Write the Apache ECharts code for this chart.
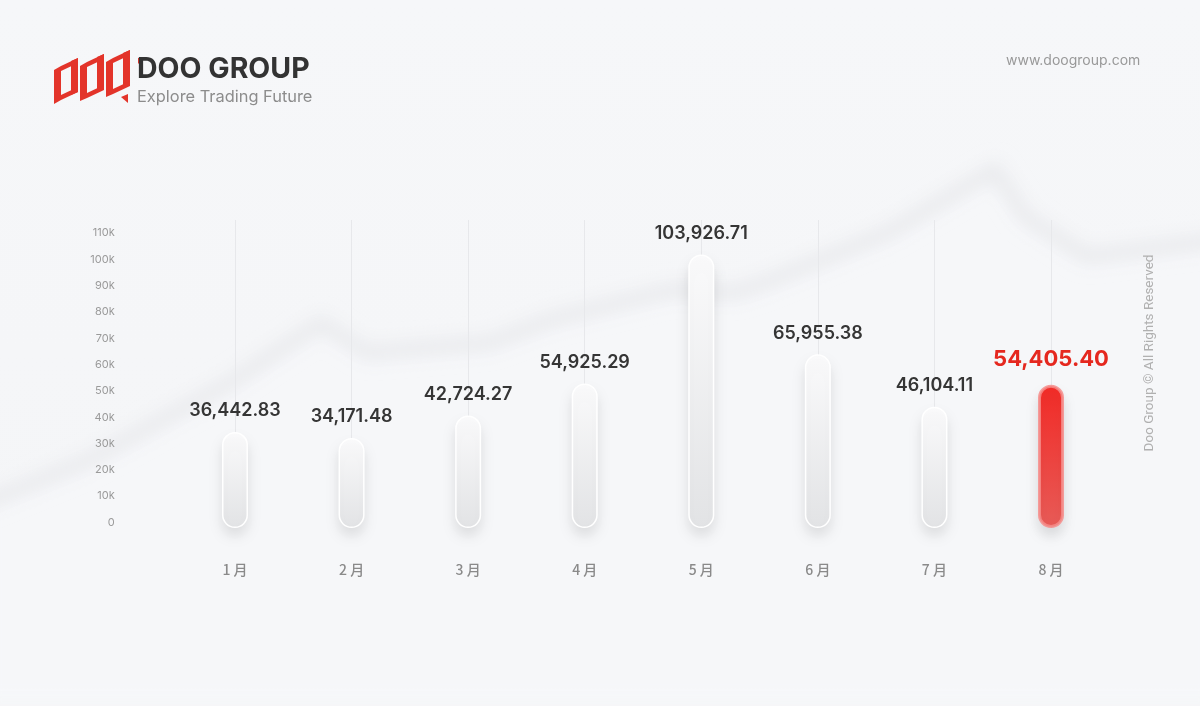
<!DOCTYPE html>
<html>
<head>
<meta charset="utf-8">
<script src="https://cdn.jsdelivr.net/npm/echarts@6/dist/echarts.min.js"></script>
<style>
  html, body { margin: 0; padding: 0; width: 1200px; height: 706px; overflow: hidden; background: #f4f5f7; }
  #bg { position: absolute; left: 0; top: 0; width: 1200px; height: 706px; }
  #chart { position: absolute; left: 0; top: 0; width: 1200px; height: 706px; }
</style>
</head>
<body>
<svg id="bg" width="1200" height="706" viewBox="0 0 1200 706">
  <defs>
    <filter id="blur" x="-10%" y="-10%" width="120%" height="120%"><feGaussianBlur stdDeviation="9"/></filter>
    <linearGradient id="bgGrad" x1="0" y1="0" x2="0" y2="1">
      <stop offset="0" stop-color="#f6f7f9"/>
      <stop offset="1" stop-color="#f4f5f7"/>
    </linearGradient>
  </defs>
  <rect width="1200" height="706" fill="url(#bgGrad)"/>
  <path d="M-20,505 L90,460 L230,383 L321,323 L367,353 L490,343 L551,320 L673,290 L735,293 L765,283 L888,233 L995,170 L1025,217 L1087,257 L1220,240 L1220,706 L-20,706 Z" fill="#f7f8fa" filter="url(#blur)" opacity="0.9"/>
  <path d="M-20,505 L90,460 L230,383 L321,323 L367,353 L490,343 L551,320 L673,290 L735,293 L765,283 L888,233 L995,170 L1025,217 L1087,257 L1220,240" fill="none" stroke="#e8e9ec" stroke-width="14" filter="url(#blur)"/>
</svg>
<div id="chart"></div>
<script>
const months = ['1 月', '2 月', '3 月', '4 月', '5 月', '6 月', '7 月', '8 月'];
const values = [36442.83, 34171.48, 42724.27, 54925.29, 103926.71, 65955.38, 46104.11, 54405.40];
const highlightIndex = 7;
const yMin = 0;
const yMax = 117000;
const yInterval = 10000;

const fmt = v => v.toLocaleString('en-US', { minimumFractionDigits: 2, maximumFractionDigits: 2 });

const chart = echarts.init(document.getElementById('chart'), null, { renderer: 'canvas' });

const greyStyle = {
  color: new echarts.graphic.LinearGradient(0, 0, 0, 1, [
    { offset: 0, color: '#fbfbfc' },
    { offset: 1, color: '#e3e4e6' }
  ]),
  borderRadius: 14,
  borderColor: '#ffffff',
  borderWidth: 1.5,
  shadowColor: 'rgba(0,0,0,0.11)',
  shadowBlur: 14,
  shadowOffsetY: 8
};
const redStyle = {
  color: new echarts.graphic.LinearGradient(0, 0, 0, 1, [
    { offset: 0, color: '#f42b27' },
    { offset: 1, color: '#e95c58' }
  ]),
  borderRadius: 15,
  borderColor: 'rgba(246,140,138,0.85)',
  borderWidth: 3,
  shadowColor: 'rgba(0,0,0,0.12)',
  shadowBlur: 14,
  shadowOffsetY: 8
};

const barData = values.map((v, i) => ({
  value: v,
  itemStyle: i === highlightIndex ? redStyle : greyStyle,
  label: i === highlightIndex
    ? { color: '#e5281f', fontSize: 22, fontWeight: 700, distance: 14 }
    : { color: '#353535', fontSize: 18, fontWeight: 600, distance: 12 }
}));

chart.setOption({
  animation: false,
  textStyle: { fontFamily: 'Inter, "Noto Sans", sans-serif' },
  grid: { left: 176.7, right: 90.7, top: 220, bottom: 178 },
  xAxis: {
    type: 'category',
    data: months,
    axisLine: { show: false },
    axisTick: { show: false },
    axisLabel: { color: '#8a8a8a', fontSize: 14, margin: 35, fontFamily: '"Noto Sans CJK SC", sans-serif', fontWeight: 500 }
  },
  yAxis: {
    type: 'value',
    min: yMin,
    max: yMax,
    interval: yInterval,
    splitLine: { show: false },
    axisLine: { show: false },
    axisTick: { show: false },
    axisLabel: {
      color: '#9a9a9a',
      fontSize: 11,
      margin: 62,
      showMaxLabel: false,
      verticalAlign: 'bottom',
      formatter: v => (v === 0 ? '0' : (v / 1000) + 'k')
    }
  },
  series: [
    {
      type: 'line',
      data: [],
      silent: true,
      z: 1,
      markLine: {
        silent: true,
        z: 1,
        symbol: ['none', 'none'],
        label: { show: false },
        lineStyle: { color: '#e7e8eb', width: 1, type: 'solid' },
        data: months.map(m => ({ xAxis: m }))
      }
    },
    {
      type: 'bar',
      z: 3,
      barWidth: 26,
      data: barData,
      label: {
        show: true,
        position: 'top',
        formatter: p => fmt(p.value)
      }
    }
  ],
  graphic: [
    // logo mark (decorative)
    { type: 'polygon', shape: { points: [[54,70],[61,66],[61,100],[54,104]] }, style: { fill: '#e3342a' } },
    { type: 'polygon', shape: { points: [[61,66],[78,58],[78,63],[61,71]] }, style: { fill: '#e3342a' } },
    { type: 'polygon', shape: { points: [[71,61],[78,58],[78,92],[71,95]] }, style: { fill: '#e3342a' } },
    { type: 'polygon', shape: { points: [[61,95],[78,87],[78,92],[61,100]] }, style: { fill: '#e3342a' } },
    { type: 'polygon', shape: { points: [[80,66],[87,62],[87,98],[80,101]] }, style: { fill: '#e3342a' } },
    { type: 'polygon', shape: { points: [[87,62],[104,54],[104,59],[87,67]] }, style: { fill: '#e3342a' } },
    { type: 'polygon', shape: { points: [[97,57],[104,54],[104,88],[97,91]] }, style: { fill: '#e3342a' } },
    { type: 'polygon', shape: { points: [[87,93],[104,85],[104,90],[87,98]] }, style: { fill: '#e3342a' } },
    { type: 'polygon', shape: { points: [[106,62],[113,58],[113,94],[106,97]] }, style: { fill: '#e3342a' } },
    { type: 'polygon', shape: { points: [[113,58],[130,50],[130,55],[113,63]] }, style: { fill: '#e3342a' } },
    { type: 'polygon', shape: { points: [[123,53],[130,50],[130,84],[123,87]] }, style: { fill: '#e3342a' } },
    { type: 'polygon', shape: { points: [[113,89],[130,81],[130,86],[113,94]] }, style: { fill: '#e3342a' } },
    { type: 'polygon', shape: { points: [[121,97],[128,94],[128,103]] }, style: { fill: '#e3342a' } },
    { type: 'polygon', shape: { points: [[138,58],[144,58],[138,64]] }, style: { fill: '#e3342a' } },
    { type: 'text', left: 137, top: 55, style: { text: 'DOO GROUP', fontSize: 28.5, fontWeight: 700, fill: '#333333', fontFamily: 'Inter, "Open Sans", sans-serif' } },
    { type: 'text', left: 137, top: 89, style: { text: 'Explore Trading Future', fontSize: 16.4, fontWeight: 400, fill: '#8c8c8c', fontFamily: 'Inter, "Open Sans", sans-serif' } },
    { type: 'text', left: 1006, top: 54, style: { text: 'www.doogroup.com', fontSize: 14, fill: '#999999', fontFamily: 'Inter, "Open Sans", sans-serif' } },
    { type: 'text', x: 1150, y: 353, rotation: Math.PI / 2, style: { text: 'Doo Group © All Rights Reserved', fontSize: 13.5, fill: '#b0b0b0', align: 'center', verticalAlign: 'middle', fontFamily: 'Roboto, "Liberation Sans", sans-serif' } }
  ]
});
</script>
</body>
</html>
